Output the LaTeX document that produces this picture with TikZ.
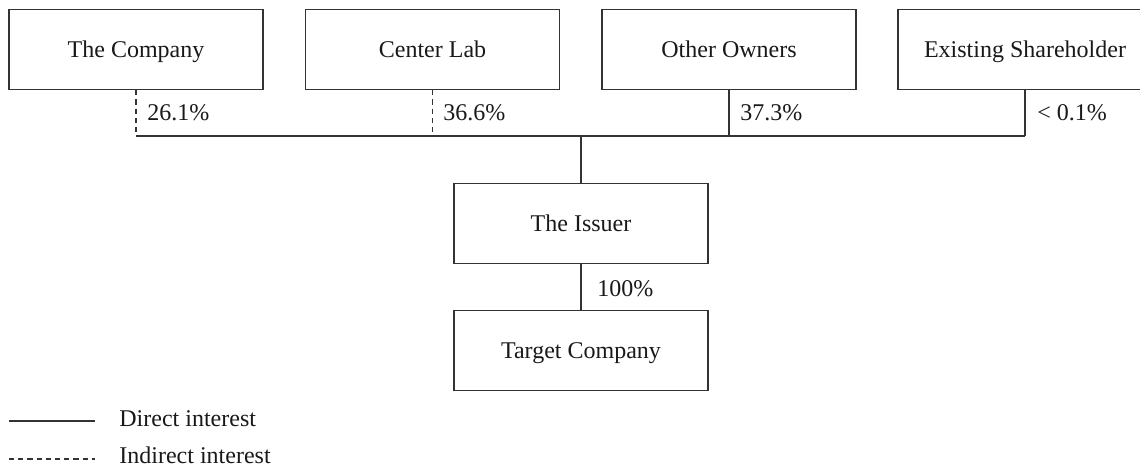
\documentclass[tikz,border=0pt]{standalone}
\usepackage{fontspec}
\setmainfont{Liberation Serif}
\usepackage{tikz}

\begin{document}
\begin{tikzpicture}[x=0.5pt,y=-0.5pt,
    font=\fontsize{12}{14.4}\selectfont,
    entity/.style={draw=black!80, line width=0.65pt, minimum width=127pt,
      minimum height=40pt, text height=8.2pt, text depth=0pt, inner sep=0pt,
      text=black!90},
    share/.style={anchor=base west, inner sep=0pt, text=black!90},
    direct/.style={draw=black!80, line width=0.65pt},
    indirect/.style={direct, dash pattern=on 2.6pt off 2pt}]
  \clip (0,0) rectangle (1140,467);

  \node[entity] (company) at (136,49.5)   {The Company};
  \node[entity] (lab)     at (432.5,49.5) {Center Lab};
  \node[entity] (owners)  at (729,49.5)   {Other Owners};
  \node[entity] (holder)  at (1025,49.5)  {Existing Shareholder};
  \node[entity] (issuer)  at (581,223.5)  {The Issuer};
  \node[entity] (target)  at (581,350.5)  {Target Company};

  \coordinate (bus) at (581,136);
  \draw[indirect] (company.south) -- (company.south |- bus);
  \draw[indirect] (lab.south) -- (lab.south |- bus);
  \draw[direct] (owners.south) -- (owners.south |- bus);
  \draw[direct] (holder.south) -- (holder.south |- bus);
  \draw[direct] (company.south |- bus) -- (holder.south |- bus);
  \draw[direct] (bus) -- (issuer.north);
  \draw[direct] (issuer.south) -- (target.north);

  \node[share] (pcompany) at (147,120.7)  {26.1\%};
  \node[share] (plab)     at (443,120.7)  {36.6\%};
  \node[share] (powners)  at (740,120.7)  {37.3\%};
  \node[share] (pholder)  at (1037,120.7) {< 0.1\%};
  \node[share] (pissuer)  at (597,296.7)  {100\%};

  % key
  \coordinate (keyA) at (9,421);
  \coordinate (keyB) at (95,421);
  \coordinate (keyC) at (9,459);
  \coordinate (keyD) at (95,459);
  \draw[direct] (keyA) -- (keyB);
  \draw[indirect] (keyC) -- (keyD);
  \node[share] (kdirect)   at (119,426.7) {Direct interest};
  \node[share] (kindirect) at (119,463.3) {Indirect interest};
\end{tikzpicture}
\end{document}
